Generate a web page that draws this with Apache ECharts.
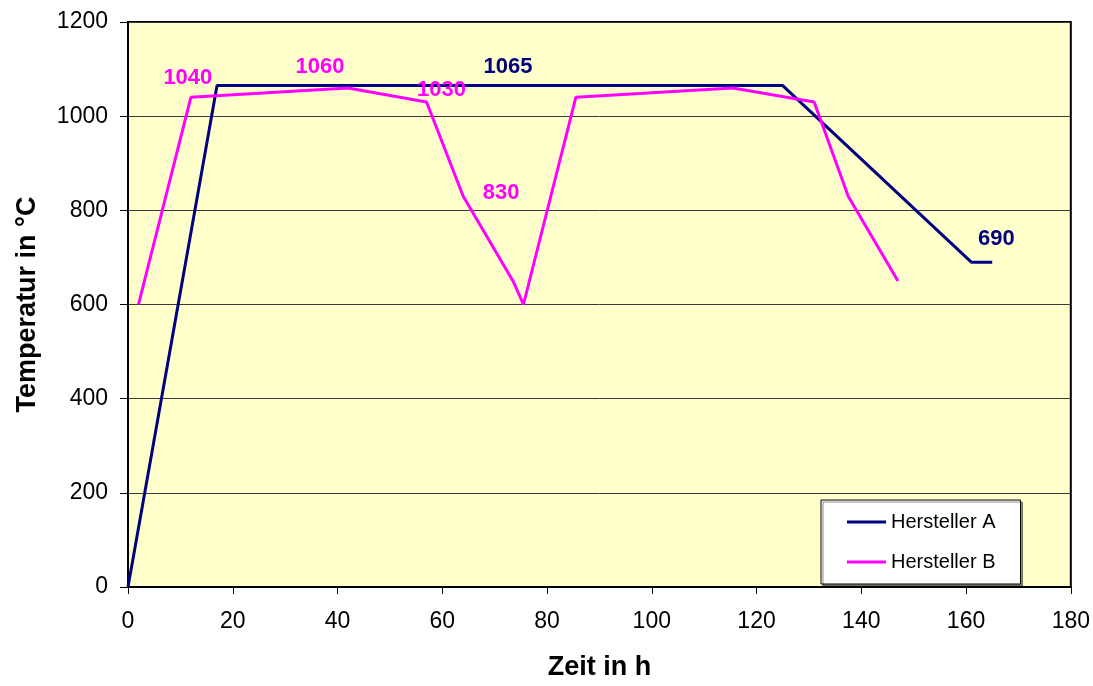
<!DOCTYPE html>
<html>
<head>
<meta charset="utf-8">
<script src="https://cdn.jsdelivr.net/npm/echarts@6/dist/echarts.min.js"></script>
<style>
  html, body { margin: 0; padding: 0; background: #fff; }
  #chart { width: 1093px; height: 686px; }
</style>
</head>
<body>
<div id="chart"></div>
<script>
// Ofenkurven: Zeit (h) gegen Temperatur (°C)
const seriesNames = ['Hersteller A', 'Hersteller B'];
const zeitA = [0, 17, 125, 161, 165];
const tempA = [0, 1065, 1065, 690, 690];
const zeitB = [2, 12, 42, 57, 64, 73.5, 75.5, 85.5, 115.5, 131, 137.5, 147];
const tempB = [600, 1040, 1060, 1030, 830, 650, 600, 1040, 1060, 1030, 830, 650];
const xTicks = [0, 20, 40, 60, 80, 100, 120, 140, 160, 180];
const yTicks = [0, 200, 400, 600, 800, 1000, 1200];

// which points carry a value label, and where the label sits relative to the point
const labelsA = { 1: [291, -19], 3: [25, -23] };
const labelsB = { 1: [-3, -19], 2: [-28, -21], 3: [15, -12], 4: [38, -3] };

const FONT = '"Liberation Sans", Arial, sans-serif';

function buildData(xs, ys, labels, color) {
  return xs.map((x, i) => {
    const item = { value: [x, ys[i]] };
    if (labels[i]) {
      item.label = {
        show: true,
        position: 'inside',
        offset: labels[i],
        color: color,
        fontFamily: FONT,
        fontWeight: 'bold',
        fontSize: 22,
        formatter: p => String(p.value[1])
      };
    }
    return item;
  });
}

const chart = echarts.init(document.getElementById('chart'), null, { renderer: 'canvas' });

chart.setOption({
  animation: false,
  backgroundColor: '#ffffff',
  textStyle: { fontFamily: FONT },
  grid: {
    left: 128, right: 22, top: 22, bottom: 95,
    show: true,
    backgroundColor: '#FFFFCC',
    borderColor: '#000000',
    borderWidth: 2
  },
  xAxis: {
    type: 'value',
    min: xTicks[0],
    max: xTicks[xTicks.length - 1],
    interval: 20,
    name: 'Zeit in h',
    nameLocation: 'middle',
    nameGap: 67,
    nameTextStyle: { fontSize: 27, fontWeight: 'bold', color: '#000', fontFamily: FONT },
    axisLine: { show: true, onZero: false, lineStyle: { color: '#000', width: 2 } },
    axisTick: { show: true, inside: false, length: 7, lineStyle: { color: '#000', width: 1 } },
    axisLabel: { fontSize: 23, color: '#000', margin: 23, fontFamily: FONT, formatter: v => String(v) },
    splitLine: { show: false }
  },
  yAxis: {
    type: 'value',
    min: yTicks[0],
    max: yTicks[yTicks.length - 1],
    interval: 200,
    name: 'Temperatur in °C',
    nameLocation: 'middle',
    nameGap: 87,
    nameRotate: 90,
    nameTextStyle: { fontSize: 27, fontWeight: 'bold', color: '#000', fontFamily: FONT },
    axisLine: { show: true, lineStyle: { color: '#000', width: 2 } },
    axisTick: { show: true, inside: false, length: 8, lineStyle: { color: '#000', width: 1 } },
    axisLabel: { fontSize: 23, color: '#000', margin: 20, fontFamily: FONT, formatter: v => String(v) },
    splitLine: { show: true, lineStyle: { color: '#3a3a3a', width: 1 } }
  },
  legend: {
    orient: 'vertical',
    left: 821,
    top: 500,
    width: 198,
    padding: [12, 25, 12, 26],
    itemGap: 20,
    itemWidth: 39,
    itemHeight: 3,
    icon: 'rect',
    itemTextGap: 5,
    backgroundColor: '#ffffff',
    borderColor: '#000000',
    borderWidth: 1,
    borderRadius: 0,
    shadowColor: 'rgba(0,0,0,0.45)',
    shadowOffsetX: 2,
    shadowOffsetY: 2,
    shadowBlur: 0,
    textStyle: { fontSize: 20, color: '#000', fontFamily: FONT },
    data: seriesNames
  },
  series: [
    {
      name: seriesNames[0],
      type: 'line',
      data: buildData(zeitA, tempA, labelsA, '#000080'),
      symbol: 'circle',
      symbolSize: 0,
      showSymbol: true,
      color: '#000080',
      lineStyle: { color: '#000080', width: 3 },
      itemStyle: { color: '#000080' },
      z: 3
    },
    {
      name: seriesNames[1],
      type: 'line',
      data: buildData(zeitB, tempB, labelsB, '#FF00FF'),
      symbol: 'circle',
      symbolSize: 0,
      showSymbol: true,
      color: '#FF00FF',
      lineStyle: { color: '#FF00FF', width: 3 },
      itemStyle: { color: '#FF00FF' },
      z: 4
    }
  ]
});
</script>
</body>
</html>
